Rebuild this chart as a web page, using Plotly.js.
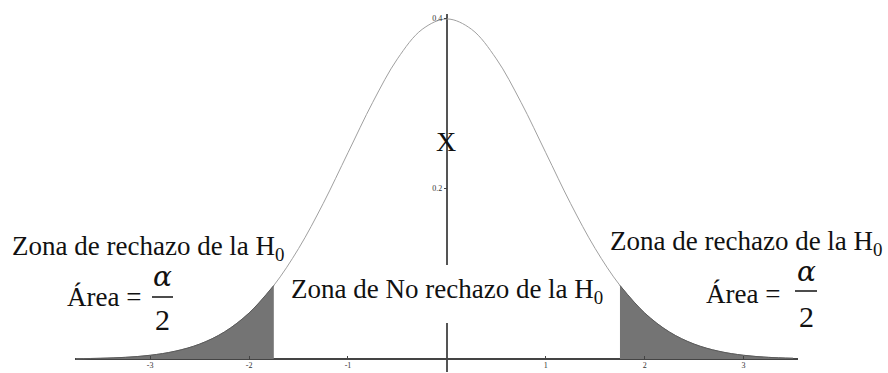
<!DOCTYPE html>
<html>
<head>
<meta charset="utf-8">
<script src="https://cdn.plot.ly/plotly-3.0.1.min.js"></script>
<style>html,body{margin:0;padding:0;background:#fff;}#chart{width:888px;height:373px;}</style>
</head>
<body>
<div id="chart"></div>
<script>
// Values (standard normal density curve)
const zValues = [-3.75,-3.5,-3.25,-3,-2.75,-2.5,-2.25,-2,-1.75,-1.5,-1.25,-1,-0.75,-0.5,-0.25,0,0.25,0.5,0.75,1,1.25,1.5,1.75,2,2.25,2.5,2.75,3,3.25,3.5];
const densityValues = [0.0004,0.0009,0.0020,0.0044,0.0091,0.0175,0.0317,0.0540,0.0863,0.1295,0.1826,0.2420,0.3011,0.3521,0.3867,0.3989,0.3867,0.3521,0.3011,0.2420,0.1826,0.1295,0.0863,0.0540,0.0317,0.0175,0.0091,0.0044,0.0020,0.0009];
const criticalValue = 1.75;
const xTickVals = [-3,-2,-1,1,2,3];
const xTickText = ['-3','-2','-1','1','2','3'];
const yTickVals = [0.2,0.4];
const yTickText = ['0.2','0.4'];

const leftX = [], leftY = [], rightX = [], rightY = [];
zValues.forEach((z,i)=>{
  if (z <= -criticalValue) { leftX.push(z); leftY.push(densityValues[i]); }
  if (z >= criticalValue) { rightX.push(z); rightY.push(densityValues[i]); }
});

const W = 888, H = 373, ML = 75, MR = 90, MT = 14, MB = 1;
const px = x => (x - ML) / (W - ML - MR);
const py = y => (H - MB - y) / (H - MT - MB);

const serif = 'Liberation Serif, Times New Roman, serif';
const txt = '#111';

const traces = [
  {x: zValues, y: densityValues, type: 'scatter', mode: 'lines',
   line: {color: '#a0a0a0', width: 1, shape: 'spline'}, hoverinfo: 'skip'},
  {x: leftX, y: leftY, type: 'scatter', mode: 'lines', fill: 'tozeroy',
   fillcolor: '#747474', line: {color: '#5a5a5a', width: 1, shape: 'spline'}, hoverinfo: 'skip'},
  {x: rightX, y: rightY, type: 'scatter', mode: 'lines', fill: 'tozeroy',
   fillcolor: '#747474', line: {color: '#5a5a5a', width: 1, shape: 'spline'}, hoverinfo: 'skip'}
];

function ann(text, x, y, size, xanchor, family) {
  return {text: text, x: px(x), y: py(y), xref: 'paper', yref: 'paper',
    showarrow: false, xanchor: xanchor || 'center', yanchor: 'middle',
    font: {family: family || serif, size: size, color: txt}};
}

const annotations = [
  ann('Zona de rechazo de la H<sub>0</sub>', 148.5, 248, 27),
  ann('Zona de rechazo de la H<sub>0</sub>', 746.5, 243, 27),
  ann('Zona de No rechazo de la H<sub>0</sub>', 447.5, 291, 27),
  ann('Área =', 143, 297, 27, 'right'),
  ann('<i>α</i>', 162.5, 276, 28, 'center', 'DejaVu Serif, serif'),
  ann('2', 162.5, 319, 30),
  ann('Área =', 782, 294, 27, 'right'),
  ann('<i>α</i>', 806, 271, 28, 'center', 'DejaVu Serif, serif'),
  ann('2', 806, 316, 30),
  ann('X', 446, 141, 28)
];

const shapes = [
  // white gap in the vertical axis behind the middle label
  {type: 'rect', xref: 'paper', yref: 'paper', layer: 'above',
   x0: px(441), x1: px(453), y0: py(323), y1: py(265),
   fillcolor: '#ffffff', line: {width: 0}},
  {type: 'line', xref: 'paper', yref: 'paper', layer: 'above', x0: px(152), x1: px(173), y0: py(297), y1: py(297),
   line: {color: txt, width: 1.5}},
  {type: 'line', xref: 'paper', yref: 'paper', layer: 'above', x0: px(795), x1: px(817), y0: py(291), y1: py(291),
   line: {color: txt, width: 1.5}}
];

const layout = {
  width: W, height: H,
  margin: {l: ML, r: MR, t: MT, b: MB, pad: 0},
  paper_bgcolor: '#ffffff', plot_bgcolor: '#ffffff',
  showlegend: false,
  xaxis: {range: [-3.76, 3.55], showgrid: false, zeroline: true, zerolinecolor: '#555', zerolinewidth: 1.5,
    showline: false, anchor: 'free', position: 0.0362,
    tickmode: 'array', tickvals: xTickVals, ticktext: xTickText,
    ticks: 'inside', ticklen: 3, tickcolor: '#444', tickwidth: 1, ticklabelstandoff: 0,
    tickfont: {family: serif, size: 8, color: '#333'}, fixedrange: true},
  yaxis: {range: [-0.0152, 0.4047], showgrid: false, zeroline: true, zerolinecolor: '#444', zerolinewidth: 1.5,
    showline: false, anchor: 'free', position: 0.5144,
    tickmode: 'array', tickvals: yTickVals, ticktext: yTickText,
    ticks: 'outside', ticklen: 3, tickcolor: '#444', tickwidth: 1,
    tickfont: {family: serif, size: 8, color: '#333'}, fixedrange: true},
  annotations: annotations,
  shapes: shapes
};

Plotly.newPlot('chart', traces, layout, {displayModeBar: false, staticPlot: true});
</script>
</body>
</html>
